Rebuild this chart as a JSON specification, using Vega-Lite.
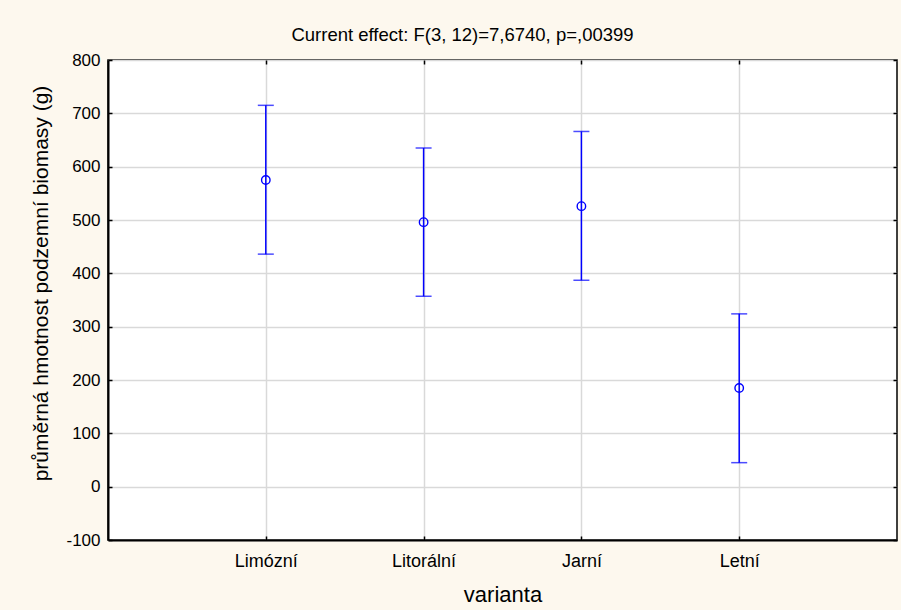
{
  "$schema": "https://vega.github.io/schema/vega-lite/v6.json",
  "autosize": "none",
  "width": 789,
  "height": 480,
  "padding": {"left": 108, "top": 60, "right": 4, "bottom": 70},
  "background": "#fdf8ee",
  "title": {
    "text": "Current effect: F(3, 12)=7,6740, p=,00399",
    "anchor": "middle",
    "frame": "group",
    "dx": -40,
    "offset": 7,
    "font": "Liberation Sans",
    "fontSize": 18.5,
    "fontWeight": "normal",
    "color": "#000000"
  },
  "config": {
    "view": {"fill": "#ffffff", "stroke": "#000000", "strokeWidth": 1.5},
    "font": "Liberation Sans"
  },
  "data": {
    "values": [
      {"varianta": "Limózní", "mean": 575, "lower": 436, "upper": 715},
      {"varianta": "Litorální", "mean": 496, "lower": 357, "upper": 635},
      {"varianta": "Jarní", "mean": 526, "lower": 387, "upper": 666},
      {"varianta": "Letní", "mean": 185, "lower": 45, "upper": 324}
    ]
  },
  "resolve": {"axis": {"x": "independent", "y": "independent"}},
  "layer": [
    {
      "mark": {"type": "rule", "color": "#0000ff", "strokeWidth": 1.5},
      "encoding": {
        "x": {
          "field": "varianta", "type": "nominal", "sort": null,
          "scale": {"type": "point", "padding": 1},
          "axis": {
            "orient": "bottom", "title": "varianta", "titleFontSize": 22, "titleFontWeight": "normal",
            "titleColor": "#000000", "titlePadding": 14,
            "labelAngle": 0, "labelFontSize": 18, "labelColor": "#000000", "labelPadding": 16,
            "tickSize": -4, "tickColor": "#000000", "tickWidth": 1.5,
            "domainColor": "#000000", "domainWidth": 2,
            "grid": true, "gridColor": "#d9d9d9", "gridWidth": 1.5
          }
        },
        "y": {
          "field": "lower", "type": "quantitative",
          "scale": {"domain": [-100, 800], "nice": false},
          "axis": {
            "orient": "left", "values": [-100, 0, 100, 200, 300, 400, 500, 600, 700, 800],
            "labelExpr": "'' + datum.value",
            "title": "průměrná hmotnost podzemní biomasy (g)", "titleFontSize": 21, "titleFontWeight": "normal",
            "titleColor": "#000000", "titlePadding": 14, "titleY": 223,
            "labelFontSize": 17, "labelColor": "#000000", "labelPadding": 12,
            "tickSize": -4, "tickColor": "#000000", "tickWidth": 1.5,
            "domainColor": "#000000", "domainWidth": 2,
            "grid": true, "gridColor": "#d9d9d9", "gridWidth": 1.5
          }
        },
        "y2": {"field": "upper"}
      }
    },
    {
      "mark": {"type": "tick", "color": "#0000ff", "orient": "horizontal", "size": 16, "thickness": 1.5},
      "encoding": {
        "x": {"field": "varianta", "type": "nominal", "sort": null, "axis": null},
        "y": {"field": "lower", "type": "quantitative", "axis": null}
      }
    },
    {
      "mark": {"type": "tick", "color": "#0000ff", "orient": "horizontal", "size": 16, "thickness": 1.5},
      "encoding": {
        "x": {"field": "varianta", "type": "nominal", "sort": null, "axis": null},
        "y": {"field": "upper", "type": "quantitative", "axis": null}
      }
    },
    {
      "mark": {"type": "point", "shape": "circle", "filled": false, "color": "#0000ff", "size": 72, "strokeWidth": 1.4, "opacity": 1},
      "encoding": {
        "x": {
          "field": "varianta", "type": "nominal", "sort": null,
          "axis": {"orient": "top", "labels": false, "title": null, "grid": false, "domain": false,
                   "tickSize": -4, "tickColor": "#000000", "tickWidth": 1.5}
        },
        "y": {
          "field": "mean", "type": "quantitative",
          "axis": {"orient": "right", "labels": false, "title": null, "grid": false, "domain": false,
                   "values": [-100, 0, 100, 200, 300, 400, 500, 600, 700, 800],
                   "tickSize": -4, "tickColor": "#000000", "tickWidth": 1.5}
        }
      }
    }
  ]
}
